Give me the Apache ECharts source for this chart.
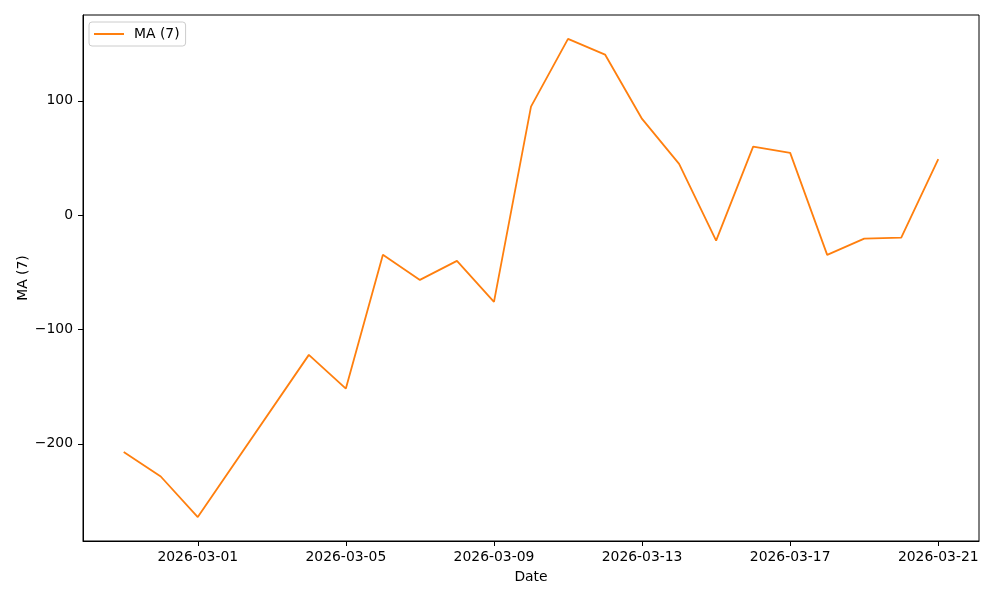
<!DOCTYPE html>
<html>
<head>
<meta charset="utf-8">
<script src="https://cdn.jsdelivr.net/npm/echarts@6/dist/echarts.min.js"></script>
<style>html,body{margin:0;padding:0;background:#fff}#c{width:1000px;height:600px}</style>
</head>
<body>
<div id="c"></div>
<script>
const dates = ["2026-02-27","2026-02-28","2026-03-01","2026-03-04","2026-03-05","2026-03-06","2026-03-07","2026-03-08","2026-03-09","2026-03-10","2026-03-11","2026-03-12","2026-03-13","2026-03-14","2026-03-15","2026-03-16","2026-03-17","2026-03-18","2026-03-19","2026-03-20","2026-03-21"];
const maValues = [-207.2,-228.6,-264.1,-122.2,-151.7,-34.7,-56.6,-40.0,-75.8,95.0,154.2,140.5,84.2,44.9,-22.2,60.0,54.5,-34.7,-20.5,-19.6,49.0];
const xTickLabels = ["2026-03-01","2026-03-05","2026-03-09","2026-03-13","2026-03-17","2026-03-21"];
const yTickValues = [-200,-100,0,100];
const seriesName = "MA (7)";

function ts(s){const p=s.split('-').map(Number);return Date.UTC(p[0],p[1]-1,p[2]);}
function fmt(v){const d=new Date(v);const m=String(d.getUTCMonth()+1).padStart(2,'0');const dd=String(d.getUTCDate()).padStart(2,'0');return d.getUTCFullYear()+'-'+m+'-'+dd;}

const xs = dates.map(ts);
const xMinD = Math.min(...xs), xMaxD = Math.max(...xs);
const xPad = (xMaxD - xMinD) * 0.05;
const yMinD = Math.min(...maValues), yMaxD = Math.max(...maValues);
const yPad = (yMaxD - yMinD) * 0.05;
const xTicks = xTickLabels.map(ts);

const font = "DejaVu Sans";
const fs = 13.9;
const chart = echarts.init(document.getElementById('c'));
chart.setOption({
  animation: false,
  backgroundColor: '#fff',
  grid: {left: 83, right: 21, top: 15, bottom: 59, show: true, borderColor: '#000', borderWidth: 1, backgroundColor: 'transparent'},
  legend: {
    left: 89, top: 22, orient: 'vertical',
    padding: [5, 6, 5, 5],
    borderColor: '#cccccc', borderWidth: 1, borderRadius: 3,
    backgroundColor: 'rgba(255,255,255,0.8)',
    itemWidth: 30, itemHeight: 2,
    textStyle: {fontFamily: font, fontSize: fs, color: '#000', padding: [0,0,0,5]},
    data: [{name: seriesName, icon: 'rect'}]
  },
  xAxis: {
    type: 'value',
    min: xMinD - xPad, max: xMaxD + xPad,
    name: 'Date', nameLocation: 'middle', nameGap: 29, nameMoveOverlap: false,
    nameTextStyle: {fontFamily: font, fontSize: fs, color: '#000'},
    axisLine: {show: true, onZero: false, lineStyle: {color: '#000'}},
    axisTick: {show: true, length: 5, customValues: xTicks, lineStyle: {color: '#000'}},
    axisLabel: {customValues: xTicks, formatter: v => fmt(v), fontFamily: font, fontSize: fs, color: '#000', margin: 9},
    splitLine: {show: false}
  },
  yAxis: {
    type: 'value',
    min: yMinD - yPad, max: yMaxD + yPad,
    name: seriesName, nameLocation: 'middle', nameGap: 53, nameRotate: 90, nameMoveOverlap: false,
    nameTextStyle: {fontFamily: font, fontSize: fs, color: '#000'},
    axisLine: {show: true, onZero: false, lineStyle: {color: '#000'}},
    axisTick: {show: true, length: 5, customValues: yTickValues, lineStyle: {color: '#000'}},
    axisLabel: {customValues: yTickValues, formatter: v => String(v).replace('-', '\u2212'), fontFamily: font, fontSize: fs, color: '#000', margin: 10},
    splitLine: {show: false}
  },
  series: [{
    name: seriesName, type: 'line',
    data: xs.map((x, i) => [x, maValues[i]]),
    showSymbol: false, symbol: 'none',
    lineStyle: {color: '#ff7f0e', width: 1.8},
    itemStyle: {color: '#ff7f0e'}
  }]
});
</script>
</body>
</html>
